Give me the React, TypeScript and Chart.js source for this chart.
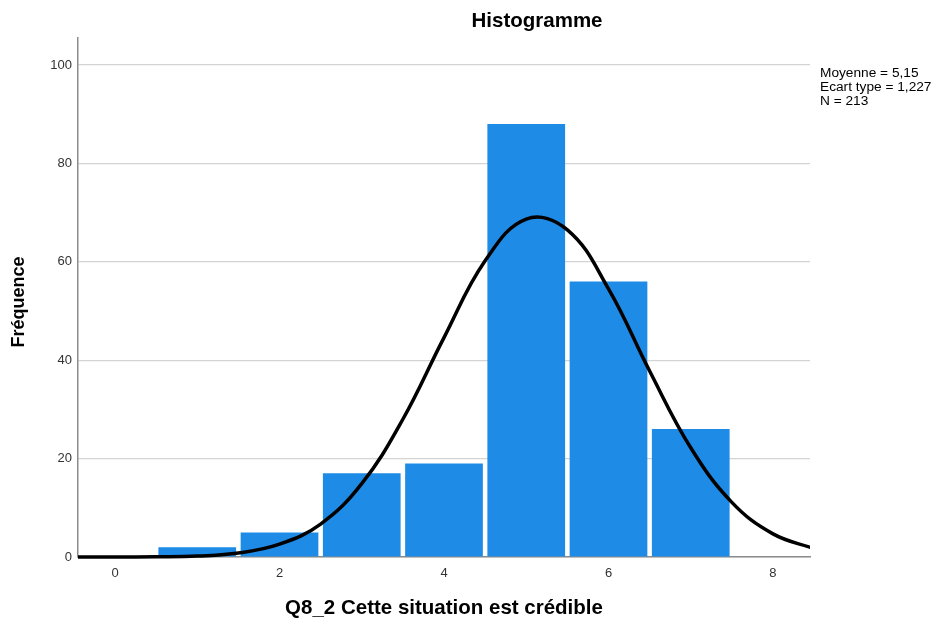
import React, { useEffect, useRef } from "react";
import { Chart, registerables } from "chart.js";

Chart.register(...registerables);

// Histogram data
const BIN_CENTERS = [1, 2, 3, 4, 5, 6, 7];
const FREQUENCIES = [2, 5, 17, 19, 88, 56, 26];

// Normal curve
const CURVE_X = [-0.5, 0, 0.5, 1, 1.5, 2, 2.5, 3, 3.5, 4, 4.5, 5, 5.5, 6, 6.5, 7, 7.5, 8, 8.5];
const CURVE_Y = [0, 0.01, 0.05, 0.2, 0.8, 2.6, 6.7, 14.9, 28, 44.6, 60.2, 68.7, 66.5, 54.5, 37.8, 22.2, 11.1, 4.7, 1.7];

const X_TICKS = [0, 2, 4, 6, 8];
const Y_TICKS = [0, 20, 40, 60, 80, 100];

const TITLE = "Histogramme";
const X_TITLE = "Q8_2 Cette situation est crédible";
const Y_TITLE = "Fréquence";
const STATS = ["Moyenne = 5,15", "Ecart type = 1,227", "N = 213"];

const FONT = "'Liberation Sans', Arial, sans-serif";

export default function App() {
  const ref = useRef<HTMLCanvasElement | null>(null);

  useEffect(() => {
    if (!ref.current) return;
    const textPlugin = {
      id: "texts",
      afterDraw(chart: any) {
        const ctx = chart.ctx;
        ctx.save();
        ctx.fillStyle = "#000";
        ctx.textAlign = "center";
        ctx.textBaseline = "middle";
        ctx.font = `bold 20.5px ${FONT}`;
        ctx.fillText(TITLE, 537, 21);
        ctx.font = `bold 20.5px ${FONT}`;
        ctx.fillText(X_TITLE, 444, 608);
        ctx.save();
        ctx.translate(19, 302);
        ctx.rotate(-Math.PI / 2);
        ctx.font = `bold 18px ${FONT}`;
        ctx.fillText(Y_TITLE, 0, 0);
        ctx.restore();
        ctx.font = `13.7px ${FONT}`;
        ctx.textAlign = "left";
        STATS.forEach((s, i) => ctx.fillText(s, 820, 73 + i * 14));
        ctx.restore();
      },
    };

    const chart = new Chart(ref.current, {
      type: "bar",
      data: {
        datasets: [
          {
            type: "line",
            data: CURVE_X.map((x, i) => ({ x, y: CURVE_Y[i] })),
            borderColor: "#000",
            borderWidth: 3.5,
            pointRadius: 0,
            tension: 0.4,
            fill: false,
            order: 0,
            clip: { left: 0, right: 0, top: 5, bottom: 5 },
          } as any,
          {
            type: "bar",
            data: BIN_CENTERS.map((x, i) => ({ x, y: FREQUENCIES[i] })),
            backgroundColor: "#1e8ce6",
            borderWidth: 0,
            barPercentage: 1,
            categoryPercentage: 0.945,
            order: 1,
          } as any,
        ],
      },
      options: {
        responsive: false,
        animation: false,
        layout: { padding: { top: 38, right: 128, left: 0, bottom: 0 } },
        plugins: {
          legend: { display: false },
          tooltip: { enabled: false },
          title: { display: false },
        },
        scales: {
          x: {
            type: "linear",
            min: -0.45,
            max: 8.45,
            offset: false,
            afterBuildTicks: (s: any) => {
              s.ticks = X_TICKS.map((v) => ({ value: v }));
            },
            afterFit: (s: any) => {
              s.height = 67;
            },
            grid: { display: false, drawTicks: false },
            border: { display: true, color: "#8c8c8c", width: 1.5 },
            ticks: {
              padding: 9,
              color: "#333",
              font: { family: FONT, size: 13 },
              maxRotation: 0,
              autoSkip: false,
            },
          },
          y: {
            type: "linear",
            min: 0,
            max: 105.5,
            afterBuildTicks: (s: any) => {
              s.ticks = Y_TICKS.map((v) => ({ value: v }));
            },
            afterFit: (s: any) => {
              s.width = 78;
            },
            grid: { display: true, color: "#d4d4d4", lineWidth: 1.2, drawTicks: false },
            border: { display: true, color: "#8c8c8c", width: 1.5 },
            ticks: {
              padding: 6,
              color: "#333",
              font: { family: FONT, size: 13 },
            },
          },
        },
      } as any,
      plugins: [textPlugin],
    });
    return () => chart.destroy();
  }, []);

  return (
    <div style={{ position: "absolute", left: 0, top: 0, width: 938, height: 624, background: "#fff" }}>
      <canvas ref={ref} width={938} height={624} style={{ width: 938, height: 624, display: "block" }} />
    </div>
  );
}
